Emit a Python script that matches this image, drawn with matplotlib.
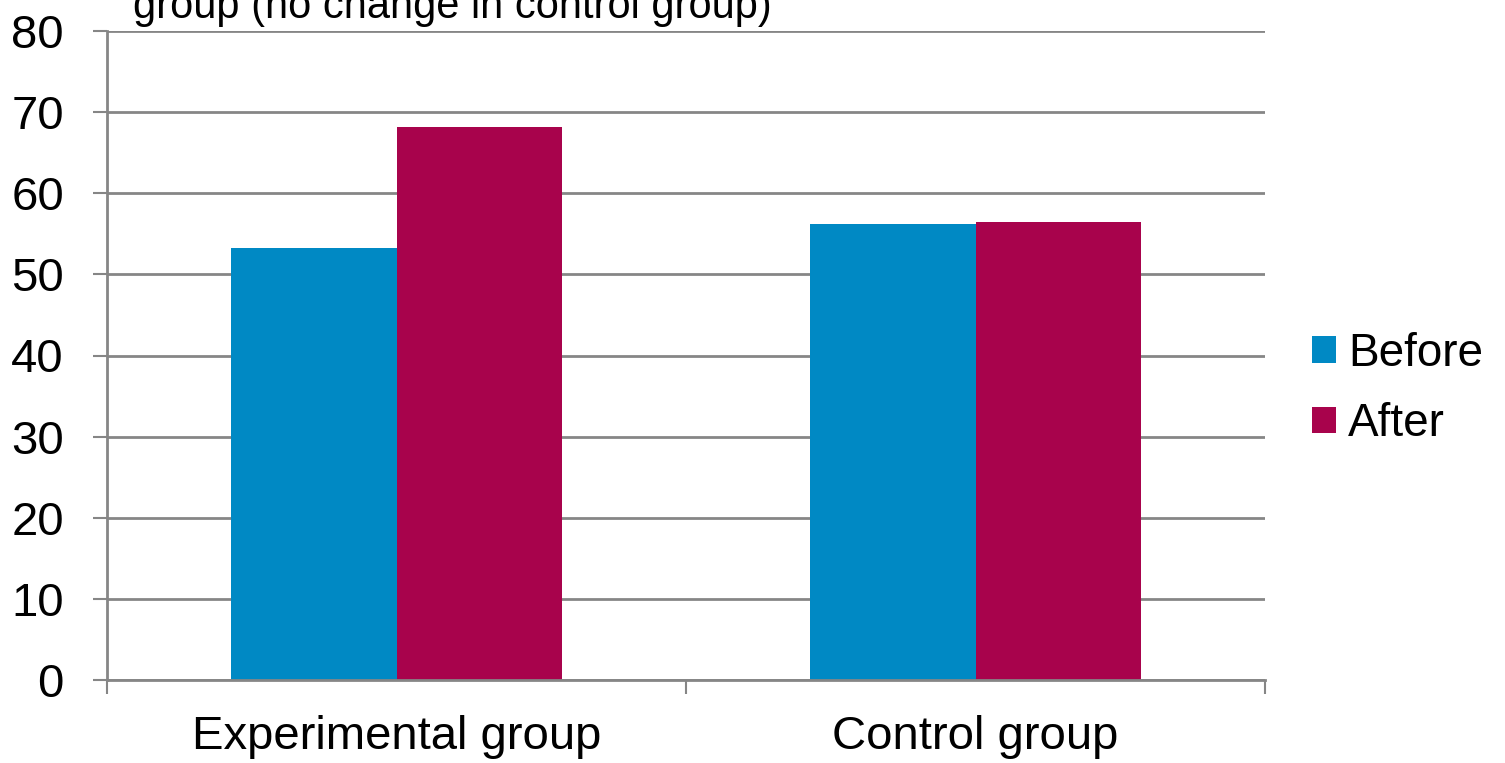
import matplotlib
matplotlib.use("Agg")
import matplotlib.pyplot as plt
from matplotlib.patches import Patch
import numpy as np

plt.rcParams['font.family'] = ['Liberation Sans', 'DejaVu Sans']

categories = ["Experimental group", "Control group"]
series_names = ["Before", "After"]
before = [53.3, 56.2]
after = [68.2, 56.4]
y_ticks = [0, 10, 20, 30, 40, 50, 60, 70, 80]
title_line = "group (no change in control group)"

colors = ["#0089C4", "#A8034C"]
grid_color = "#868686"

W, H = 1505, 763
fig = plt.figure(figsize=(W / 100, H / 100), dpi=100)
ax = fig.add_axes([107 / W, 1 - 680 / H, (1265 - 107) / W, (680 - 31) / H])

x = np.arange(len(categories))
w = 0.285
ax.bar(x - w / 2, before, width=w, color=colors[0], zorder=3)
ax.bar(x + w / 2, after, width=w, color=colors[1], zorder=3)

ax.set_xlim(-0.5, len(categories) - 0.5)
ax.set_ylim(0, 80)
ax.set_yticks(y_ticks)
ax.set_yticklabels([str(t) for t in y_ticks], fontsize=34)
ax.yaxis.grid(True, color=grid_color, linewidth=2, zorder=0)
ax.set_axisbelow(True)

ax.set_xticks(x)
ax.set_xticklabels(categories, fontsize=34)
ax.tick_params(axis='x', which='major', length=0, pad=25)
ax.set_xticks(np.arange(-0.5, len(categories)), minor=True)
ax.tick_params(axis='x', which='minor', length=10, width=1.5, color=grid_color, direction='out')
ax.tick_params(axis='y', length=10, width=1.5, color=grid_color, direction='out', pad=21)

for s in ['top', 'right']:
    ax.spines[s].set_visible(False)
for s in ['left', 'bottom']:
    ax.spines[s].set_color(grid_color)
    ax.spines[s].set_linewidth(2)
ax.spines['bottom'].set_zorder(4)

# second line of the title, the first line sits above the canvas
fig.text(133 / W, 1 - 18 / H, title_line, fontsize=30, ha='left', va='baseline')

handles = [Patch(facecolor=c, edgecolor='none') for c in colors]
fig.legend(handles, series_names, loc='center left',
           bbox_to_anchor=(1312 / W, 1 - 389 / H), frameon=False,
           fontsize=33, handlelength=0.52, handleheight=0.52,
           handletextpad=0.26, labelspacing=0.58, borderpad=0,
           borderaxespad=0)

fig.savefig("out.png", dpi=100)
